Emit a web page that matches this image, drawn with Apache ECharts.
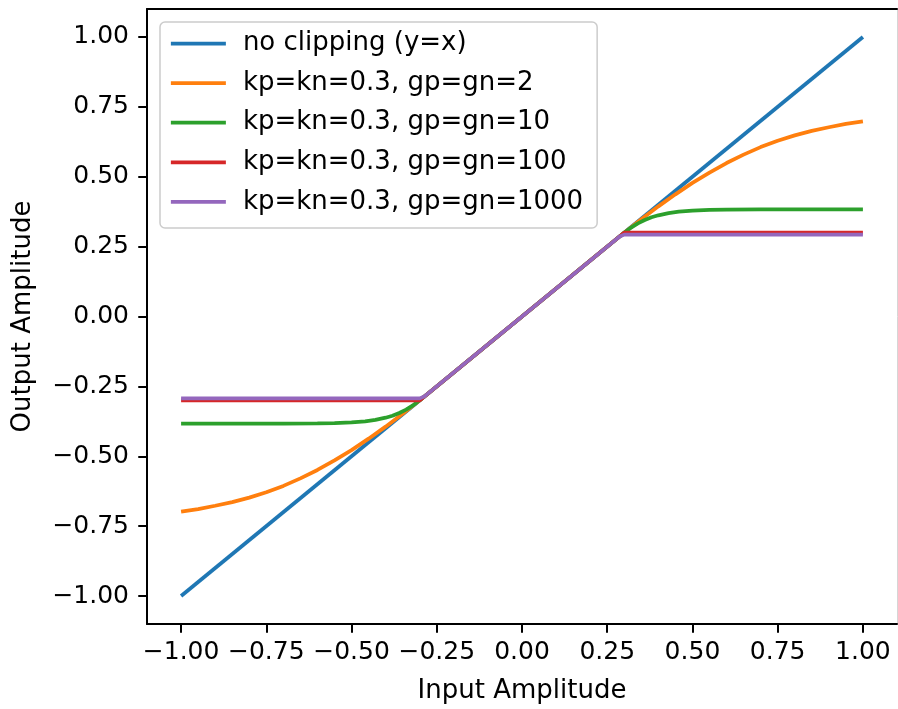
<!DOCTYPE html>
<html>
<head>
<meta charset="utf-8">
<script src="https://cdn.jsdelivr.net/npm/echarts@6/dist/echarts.min.js"></script>
<style>
  html, body { margin: 0; padding: 0; background: #fff; }
  #chart { width: 898px; height: 709px; }
</style>
</head>
<body>
<div id="chart"></div>
<script>
// Tick positions shared by both axes
const tickValues = [-1.0, -0.75, -0.5, -0.25, 0.0, 0.25, 0.5, 0.75, 1.0];

// Series names
const seriesNames = [
  'no clipping (y=x)',
  'kp=kn=0.3, gp=gn=2',
  'kp=kn=0.3, gp=gn=10',
  'kp=kn=0.3, gp=gn=100',
  'kp=kn=0.3, gp=gn=1000'
];
const seriesColors = ['#1f77b4', '#ff7f0e', '#2ca02c', '#d62728', '#9467bd'];

// Identity line
const linearX = [-1.0, 1.0];
const linearY = [-1.0, 1.0];

// gp=gn=2
const soft2X = [-1.0, -0.95, -0.9, -0.85, -0.8, -0.75, -0.7, -0.65, -0.6, -0.55, -0.5, -0.45, -0.4, -0.35, -0.3,
                0.3, 0.35, 0.4, 0.45, 0.5, 0.55, 0.6, 0.65, 0.7, 0.75, 0.8, 0.85, 0.9, 0.95, 1.0];
const soft2Y = [-0.698, -0.689, -0.677, -0.664, -0.648, -0.629, -0.606, -0.579, -0.549, -0.515, -0.478, -0.437, -0.394, -0.348, -0.3,
                0.3, 0.348, 0.394, 0.437, 0.478, 0.515, 0.549, 0.579, 0.606, 0.629, 0.648, 0.664, 0.677, 0.689, 0.698];

// gp=gn=10
const soft10X = [-1.0, -0.7, -0.6, -0.55, -0.5, -0.46, -0.43, -0.4, -0.38, -0.36, -0.34, -0.32, -0.3,
                 0.3, 0.32, 0.34, 0.36, 0.38, 0.4, 0.43, 0.46, 0.5, 0.55, 0.6, 0.7, 1.0];
const soft10Y = [-0.383, -0.383, -0.382, -0.381, -0.379, -0.375, -0.370, -0.362, -0.355, -0.345, -0.333, -0.318, -0.3,
                 0.3, 0.318, 0.333, 0.345, 0.355, 0.362, 0.370, 0.375, 0.379, 0.381, 0.382, 0.383, 0.383];

// gp=gn=100
const soft100X = [-1.0, -0.3, 0.3, 1.0];
const soft100Y = [-0.3, -0.3, 0.3, 0.3];

// gp=gn=1000
const soft1000X = [-1.0, -0.3, -0.285, 0.285, 0.3, 1.0];
const soft1000Y = [-0.293, -0.293, -0.285, 0.285, 0.293, 0.293];

const pairs = (xs, ys) => xs.map((x, i) => [x, ys[i]]);
const seriesData = [
  pairs(linearX, linearY),
  pairs(soft2X, soft2Y),
  pairs(soft10X, soft10Y),
  pairs(soft100X, soft100Y),
  pairs(soft1000X, soft1000Y)
];

const FONT = 'DejaVu Sans';
const TICK_FS = 25;
const TEXT_FS = 26;
const fmt = v => {
  const s = Math.abs(v).toFixed(2);
  return v < -1e-9 ? '\u2212' + s : s;
};

const chart = echarts.init(document.getElementById('chart'), null, { renderer: 'canvas' });

const axisCommon = {
  type: 'value',
  min: -1.1,
  max: 1.1,
  splitLine: { show: false },
  axisLine: { show: true, onZero: false, lineStyle: { color: '#000', width: 2 } },
  axisTick: { show: true, length: 8.75, lineStyle: { color: '#000', width: 2 }, customValues: tickValues },
  axisLabel: { show: true, customValues: tickValues, formatter: fmt,
               fontFamily: FONT, fontSize: TICK_FS, color: '#000' },
  nameLocation: 'middle',
  nameTextStyle: { fontFamily: FONT, fontSize: TEXT_FS, color: '#000' }
};

const option = {
  animation: false,
  backgroundColor: '#fff',
  grid: { left: 147, right: 1, top: 9, bottom: 84, containLabel: false },
  xAxis: [
    Object.assign({}, axisCommon, {
      position: 'bottom',
      name: 'Input Amplitude',
      nameGap: 54,
      axisLabel: Object.assign({}, axisCommon.axisLabel, { margin: 16 })
    }),
    {
      type: 'value', min: -1.1, max: 1.1, position: 'top',
      axisLine: { show: true, onZero: false, lineStyle: { color: '#000', width: 2 } },
      axisTick: { show: false }, axisLabel: { show: false }, splitLine: { show: false }
    }
  ],
  yAxis: [
    Object.assign({}, axisCommon, {
      position: 'left',
      name: 'Output Amplitude',
      nameGap: 111,
      axisLabel: Object.assign({}, axisCommon.axisLabel, { margin: 18 })
    }),
    {
      type: 'value', min: -1.1, max: 1.1, position: 'right',
      axisLine: { show: true, onZero: false, lineStyle: { color: '#d6d6d6', width: 1 } },
      axisTick: { show: false }, axisLabel: { show: false }, splitLine: { show: false }
    }
  ],
  legend: {
    orient: 'vertical',
    left: 160,
    top: 22,
    data: seriesNames,
    itemWidth: 55,
    itemHeight: 14,
    itemGap: 9.6,
    padding: [6.5, 14, 11, 9],
    backgroundColor: '#fff',
    borderColor: '#cccccc',
    borderWidth: 1.5,
    borderRadius: 5,
    textStyle: { fontFamily: FONT, fontSize: TEXT_FS, color: '#000', padding: [0, 0, 0, 12], lineHeight: 30 },
    lineStyle: { width: 3.75 },
    itemStyle: { opacity: 0 }
  },
  series: seriesNames.map((name, i) => ({
    name: name,
    type: 'line',
    data: seriesData[i],
    symbol: 'none',
    smooth: false,
    color: seriesColors[i],
    lineStyle: { width: 3.75, color: seriesColors[i] },
    z: 2 + i
  }))
};

chart.setOption(option);
</script>
</body>
</html>
